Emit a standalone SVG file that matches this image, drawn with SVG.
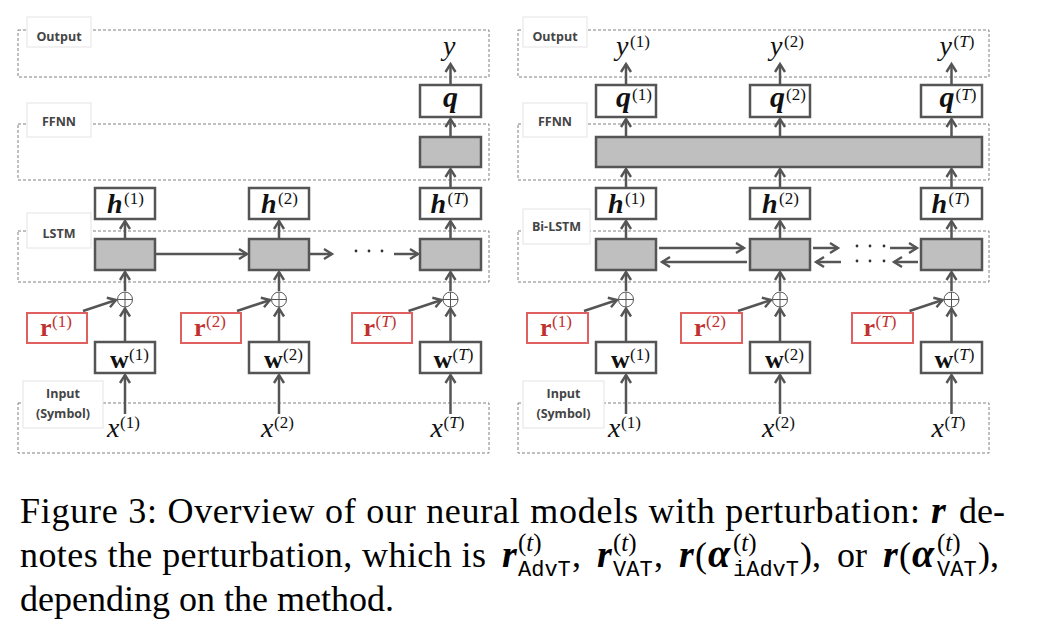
<svg xmlns="http://www.w3.org/2000/svg" width="1042" height="632" viewBox="0 0 1042 632">
<defs>
<marker id="ah" viewBox="-12 -8 16 16" refX="0" refY="0" markerWidth="16" markerHeight="16" markerUnits="userSpaceOnUse" orient="auto">
<path d="M-8,-5 L0,0 L-8,5" fill="none" stroke="#555" stroke-width="2.4"/>
</marker>
<style>
.dash{fill:none;stroke:#808080;stroke-width:1;stroke-dasharray:3 2}
.lbl{fill:#fff;stroke:#e4e4e4;stroke-width:1}
.lt{font-family:"Open Sans","Liberation Sans",sans-serif;font-weight:700;font-size:12.5px;fill:#444;text-anchor:middle}
.box{fill:#fff;stroke:#555;stroke-width:2.5}
.gbox{fill:#bfbfbf;stroke:#555;stroke-width:2.5}
.rbox{fill:#fff;stroke:#e06060;stroke-width:2}
.arr{stroke:#555;stroke-width:2.5;fill:none;marker-end:url(#ah)}
.plus{fill:#fff;stroke:#555;stroke-width:1}
.m{font-family:"Liberation Serif","DejaVu Serif",serif;font-size:26px;fill:#111}
.big{font-size:28px}
.qq{font-size:30px}
.bi{font-weight:700;font-style:italic}
.b{font-weight:700}
.i{font-style:italic}
.s{font-family:"Liberation Serif","DejaVu Serif",serif;font-size:17px;fill:#111}
.red{fill:#c0322f}
.dot{fill:#333}
.cap{font-family:"Liberation Serif","Times New Roman",serif;font-size:36px;fill:#000}
.cm{font-size:38px}
.ca{font-size:40px}
.capsup{font-family:"Liberation Serif","Times New Roman",serif;font-size:25px;fill:#000}
.captt{font-family:"Liberation Mono","Courier New",monospace;font-size:22px;fill:#000}
</style>
</defs>
<rect width="1042" height="632" fill="#fff"/>

<g id="layers-left">
<rect class="dash" x="18" y="30" width="471" height="47"/>
<rect class="dash" x="18" y="124" width="471" height="56"/>
<rect class="dash" x="18" y="231" width="471" height="51"/>
<rect class="dash" x="18" y="403" width="471" height="50"/>
</g>
<g id="layers-right">
<rect class="dash" x="518" y="30" width="471" height="47"/>
<rect class="dash" x="518" y="124" width="471" height="56"/>
<rect class="dash" x="518" y="231" width="471" height="51"/>
<rect class="dash" x="518" y="403" width="471" height="50"/>
</g>

<g id="label-output-l"><rect class="lbl" x="27" y="17" width="64" height="30"/><text class="lt" x="59" y="41">Output</text></g>
<g id="label-ffnn-l"><rect class="lbl" x="27" y="103" width="64" height="34"/><text class="lt" x="59" y="126">FFNN</text></g>
<g id="label-lstm-l"><rect class="lbl" x="27" y="213" width="64" height="35"/><text class="lt" x="59" y="238">LSTM</text></g>
<g id="label-input-l"><rect class="lbl" x="23" y="381" width="80" height="47"/><text class="lt" x="63" y="398">Input</text><text class="lt" x="63" y="418">(Symbol)</text></g>

<g id="label-output-r"><rect class="lbl" x="523" y="17" width="64" height="30"/><text class="lt" x="555" y="41">Output</text></g>
<g id="label-ffnn-r"><rect class="lbl" x="523" y="103" width="64" height="34"/><text class="lt" x="555" y="126">FFNN</text></g>
<g id="label-bilstm-r"><rect class="lbl" x="523" y="209" width="67" height="35"/><text class="lt" x="556.5" y="231">Bi-LSTM</text></g>
<g id="label-input-r"><rect class="lbl" x="523" y="381" width="81" height="47"/><text class="lt" x="563.5" y="398">Input</text><text class="lt" x="563.5" y="418">(Symbol)</text></g>

<g id="connectors">
<line class="arr" x1="125" y1="414" x2="125" y2="375"/>
<line class="arr" x1="125" y1="342" x2="125" y2="308.5"/>
<line class="arr" x1="125" y1="291" x2="125" y2="272"/>
<line class="arr" x1="125" y1="239" x2="125" y2="221"/>
<line class="arr" x1="83" y1="311" x2="116" y2="300"/>
<line class="arr" x1="279" y1="414" x2="279" y2="375"/>
<line class="arr" x1="279" y1="342" x2="279" y2="308.5"/>
<line class="arr" x1="279" y1="291" x2="279" y2="272"/>
<line class="arr" x1="279" y1="239" x2="279" y2="221"/>
<line class="arr" x1="237" y1="311" x2="270" y2="300"/>
<line class="arr" x1="450.5" y1="414" x2="450.5" y2="375"/>
<line class="arr" x1="450.5" y1="342" x2="450.5" y2="308.5"/>
<line class="arr" x1="450.5" y1="291" x2="450.5" y2="272"/>
<line class="arr" x1="450.5" y1="239" x2="450.5" y2="221"/>
<line class="arr" x1="408.5" y1="311" x2="441.5" y2="300"/>
<line class="arr" x1="450.5" y1="188" x2="450.5" y2="169"/>
<line class="arr" x1="450.5" y1="137" x2="450.5" y2="119"/>
<line class="arr" x1="450.5" y1="85" x2="450.5" y2="64"/>
<line class="arr" x1="155" y1="254" x2="247" y2="254"/>
<line class="arr" x1="309" y1="254" x2="332" y2="254"/>
<line class="arr" x1="394" y1="254" x2="418" y2="254"/>
<line class="arr" x1="626" y1="414" x2="626" y2="375"/>
<line class="arr" x1="626" y1="342" x2="626" y2="308.5"/>
<line class="arr" x1="626" y1="291" x2="626" y2="272"/>
<line class="arr" x1="626" y1="239" x2="626" y2="221"/>
<line class="arr" x1="584" y1="311" x2="617" y2="300"/>
<line class="arr" x1="626" y1="188" x2="626" y2="169"/>
<line class="arr" x1="626" y1="137" x2="626" y2="119"/>
<line class="arr" x1="626" y1="85" x2="626" y2="64"/>
<line class="arr" x1="780" y1="414" x2="780" y2="375"/>
<line class="arr" x1="780" y1="342" x2="780" y2="308.5"/>
<line class="arr" x1="780" y1="291" x2="780" y2="272"/>
<line class="arr" x1="780" y1="239" x2="780" y2="221"/>
<line class="arr" x1="738" y1="311" x2="771" y2="300"/>
<line class="arr" x1="780" y1="188" x2="780" y2="169"/>
<line class="arr" x1="780" y1="137" x2="780" y2="119"/>
<line class="arr" x1="780" y1="85" x2="780" y2="64"/>
<line class="arr" x1="951.5" y1="414" x2="951.5" y2="375"/>
<line class="arr" x1="951.5" y1="342" x2="951.5" y2="308.5"/>
<line class="arr" x1="951.5" y1="291" x2="951.5" y2="272"/>
<line class="arr" x1="951.5" y1="239" x2="951.5" y2="221"/>
<line class="arr" x1="909.5" y1="311" x2="942.5" y2="300"/>
<line class="arr" x1="951.5" y1="188" x2="951.5" y2="169"/>
<line class="arr" x1="951.5" y1="137" x2="951.5" y2="119"/>
<line class="arr" x1="951.5" y1="85" x2="951.5" y2="64"/>
<line class="arr" x1="659" y1="248" x2="744" y2="248"/>
<line class="arr" x1="747" y1="262" x2="662" y2="262"/>
<line class="arr" x1="813" y1="248" x2="838" y2="248"/>
<line class="arr" x1="841" y1="262" x2="816" y2="262"/>
<line class="arr" x1="890" y1="248" x2="917" y2="248"/>
<line class="arr" x1="918" y1="262" x2="894" y2="262"/>
</g>

<g id="dots-left"><circle class="dot" cx="356" cy="251" r="1.4"/><circle class="dot" cx="369" cy="251" r="1.4"/><circle class="dot" cx="382" cy="251" r="1.4"/></g>
<g id="dots-right"><circle class="dot" cx="857" cy="246" r="1.4"/><circle class="dot" cx="870" cy="246" r="1.4"/><circle class="dot" cx="884" cy="246" r="1.4"/><circle class="dot" cx="857" cy="261" r="1.4"/><circle class="dot" cx="870" cy="261" r="1.4"/><circle class="dot" cx="884" cy="261" r="1.4"/></g>

<g id="y-out"><text class="m big i" x="443" y="55">y</text></g>
<g id="q"><rect class="box" x="420" y="85" width="61" height="32"/><text class="m qq bi" x="443" y="106.5">q</text></g>
<g id="ffnn-l"><rect class="gbox" x="420" y="137" width="61" height="30"/></g>

<g id="l-col1" transform="translate(125,0)">
<g id="h1"><rect class="box" x="-30" y="188" width="60" height="31"/><text class="m big bi" x="-18" y="213">h</text><text class="s" x="-1" y="204">(1)</text></g>
<g id="lstm1"><rect class="gbox" x="-30" y="239" width="60" height="31"/></g>
<g id="plus1"><circle class="plus" cx="0" cy="299.5" r="7.5"/><path class="plus" d="M-7.5,299.5H7.5M0,292V307"/></g>
<g id="r1"><rect class="rbox" x="-98" y="313" width="60" height="30"/><text class="m b red" x="-85" y="336">r</text><text class="s red" x="-73" y="327">(1)</text></g>
<g id="w1"><rect class="box" x="-30" y="342" width="60" height="31"/><text class="m b" x="-15" y="368">w</text><text class="s" x="4" y="360">(1)</text></g>
<g id="x1"><text class="m big i" x="-18" y="437">x</text><text class="s" x="-5" y="428">(1)</text></g>
</g>

<g id="l-col2" transform="translate(279,0)">
<g id="h2"><rect class="box" x="-30" y="188" width="60" height="31"/><text class="m big bi" x="-18" y="213">h</text><text class="s" x="-1" y="204">(2)</text></g>
<g id="lstm2"><rect class="gbox" x="-30" y="239" width="60" height="31"/></g>
<g id="plus2"><circle class="plus" cx="0" cy="299.5" r="7.5"/><path class="plus" d="M-7.5,299.5H7.5M0,292V307"/></g>
<g id="r2"><rect class="rbox" x="-98" y="313" width="60" height="30"/><text class="m b red" x="-85" y="336">r</text><text class="s red" x="-73" y="327">(2)</text></g>
<g id="w2"><rect class="box" x="-30" y="342" width="60" height="31"/><text class="m b" x="-15" y="368">w</text><text class="s" x="4" y="360">(2)</text></g>
<g id="x2"><text class="m big i" x="-18" y="437">x</text><text class="s" x="-5" y="428">(2)</text></g>
</g>

<g id="l-col3" transform="translate(450.5,0)">
<g id="hT"><rect class="box" x="-30.5" y="188" width="61" height="31"/><text class="m big bi" x="-20" y="213">h</text><text class="s" x="-3" y="204">(<tspan class="i">T</tspan>)</text></g>
<g id="lstmT"><rect class="gbox" x="-30.5" y="239" width="61" height="31"/></g>
<g id="plusT"><circle class="plus" cx="0" cy="299.5" r="7.5"/><path class="plus" d="M-7.5,299.5H7.5M0,292V307"/></g>
<g id="rT"><rect class="rbox" x="-98.5" y="313" width="60" height="30"/><text class="m b red" x="-87" y="336">r</text><text class="s red" x="-75" y="327">(<tspan class="i">T</tspan>)</text></g>
<g id="wT"><rect class="box" x="-30.5" y="342" width="61" height="31"/><text class="m b" x="-17" y="368">w</text><text class="s" x="2" y="360">(<tspan class="i">T</tspan>)</text></g>
<g id="xT"><text class="m big i" x="-20" y="437">x</text><text class="s" x="-7" y="428">(<tspan class="i">T</tspan>)</text></g>
</g>

<g id="ffnn-r"><rect class="gbox" x="596" y="137" width="386" height="30"/></g>

<g id="r-col1" transform="translate(626,0)">
<g id="ry1"><text class="m big i" x="-10" y="55">y</text><text class="s" x="4" y="47">(1)</text></g>
<g id="rq1"><rect class="box" x="-30" y="85" width="60" height="32"/><text class="m qq bi" x="-10" y="106.5">q</text><text class="s" x="6" y="100">(1)</text></g>
<g id="rh1"><rect class="box" x="-30" y="188" width="60" height="31"/><text class="m big bi" x="-18" y="213">h</text><text class="s" x="-1" y="204">(1)</text></g>
<g id="blstm1"><rect class="gbox" x="-30" y="239" width="60" height="31"/></g>
<g id="rplus1"><circle class="plus" cx="0" cy="299.5" r="7.5"/><path class="plus" d="M-7.5,299.5H7.5M0,292V307"/></g>
<g id="rr1"><rect class="rbox" x="-99" y="313" width="61" height="30"/><text class="m b red" x="-86" y="336">r</text><text class="s red" x="-74" y="327">(1)</text></g>
<g id="rw1"><rect class="box" x="-30" y="342" width="60" height="31"/><text class="m b" x="-15" y="368">w</text><text class="s" x="4" y="360">(1)</text></g>
<g id="rx1"><text class="m big i" x="-18" y="437">x</text><text class="s" x="-5" y="428">(1)</text></g>
</g>

<g id="r-col2" transform="translate(780,0)">
<g id="ry2"><text class="m big i" x="-10" y="55">y</text><text class="s" x="4" y="47">(2)</text></g>
<g id="rq2"><rect class="box" x="-30" y="85" width="60" height="32"/><text class="m qq bi" x="-10" y="106.5">q</text><text class="s" x="6" y="100">(2)</text></g>
<g id="rh2"><rect class="box" x="-30" y="188" width="60" height="31"/><text class="m big bi" x="-18" y="213">h</text><text class="s" x="-1" y="204">(2)</text></g>
<g id="blstm2"><rect class="gbox" x="-30" y="239" width="60" height="31"/></g>
<g id="rplus2"><circle class="plus" cx="0" cy="299.5" r="7.5"/><path class="plus" d="M-7.5,299.5H7.5M0,292V307"/></g>
<g id="rr2"><rect class="rbox" x="-99" y="313" width="61" height="30"/><text class="m b red" x="-86" y="336">r</text><text class="s red" x="-74" y="327">(2)</text></g>
<g id="rw2"><rect class="box" x="-30" y="342" width="60" height="31"/><text class="m b" x="-15" y="368">w</text><text class="s" x="4" y="360">(2)</text></g>
<g id="rx2"><text class="m big i" x="-18" y="437">x</text><text class="s" x="-5" y="428">(2)</text></g>
</g>

<g id="r-col3" transform="translate(951.5,0)">
<g id="ryT"><text class="m big i" x="-12" y="55">y</text><text class="s" x="2" y="47">(<tspan class="i">T</tspan>)</text></g>
<g id="rqT"><rect class="box" x="-30.5" y="85" width="61" height="32"/><text class="m qq bi" x="-12" y="106.5">q</text><text class="s" x="4" y="100">(<tspan class="i">T</tspan>)</text></g>
<g id="rhT"><rect class="box" x="-30.5" y="188" width="61" height="31"/><text class="m big bi" x="-20" y="213">h</text><text class="s" x="-3" y="204">(<tspan class="i">T</tspan>)</text></g>
<g id="blstmT"><rect class="gbox" x="-30.5" y="239" width="61" height="31"/></g>
<g id="rplusT"><circle class="plus" cx="0" cy="299.5" r="7.5"/><path class="plus" d="M-7.5,299.5H7.5M0,292V307"/></g>
<g id="rrT"><rect class="rbox" x="-99.5" y="313" width="61" height="30"/><text class="m b red" x="-88" y="336">r</text><text class="s red" x="-76" y="327">(<tspan class="i">T</tspan>)</text></g>
<g id="rwT"><rect class="box" x="-30.5" y="342" width="61" height="31"/><text class="m b" x="-17" y="368">w</text><text class="s" x="2" y="360">(<tspan class="i">T</tspan>)</text></g>
<g id="rxT"><text class="m big i" x="-20" y="437">x</text><text class="s" x="-7" y="428">(<tspan class="i">T</tspan>)</text></g>
</g>

<g id="caption">
<text class="cap" x="20" y="523" textLength="900" lengthAdjust="spacing">Figure 3: Overview of our neural models with perturbation:</text>
<text class="cap cm bi" x="931" y="523">r</text>
<text class="cap" x="959" y="523">de-</text>

<text class="cap" x="20" y="567" textLength="466" lengthAdjust="spacing">notes the perturbation, which is</text>
<text class="cap cm bi" x="502" y="567">r</text>
<text class="capsup" x="518" y="551">(<tspan class="i">t</tspan>)</text>
<text class="captt" x="518" y="576">AdvT</text>
<text class="cap" x="572" y="567">,</text>
<text class="cap cm bi" x="597" y="567">r</text>
<text class="capsup" x="613" y="551">(<tspan class="i">t</tspan>)</text>
<text class="captt" x="613" y="576">VAT</text>
<text class="cap" x="654" y="567">,</text>
<text class="cap cm bi" x="679" y="567">r</text>
<text class="cap" x="695" y="567">(</text>
<text class="cap ca bi" x="708" y="567">α</text>
<text class="capsup" x="733" y="551">(<tspan class="i">t</tspan>)</text>
<text class="captt" x="733" y="576">iAdvT</text>
<text class="cap" x="800" y="567">),</text>
<text class="cap" x="837" y="567">or</text>
<text class="cap cm bi" x="883" y="567">r</text>
<text class="cap" x="899" y="567">(</text>
<text class="cap ca bi" x="912" y="567">α</text>
<text class="capsup" x="937" y="551">(<tspan class="i">t</tspan>)</text>
<text class="captt" x="937" y="576">VAT</text>
<text class="cap" x="978" y="567">),</text>

<text class="cap" x="20" y="611">depending on the method.</text>
</g>
</svg>
